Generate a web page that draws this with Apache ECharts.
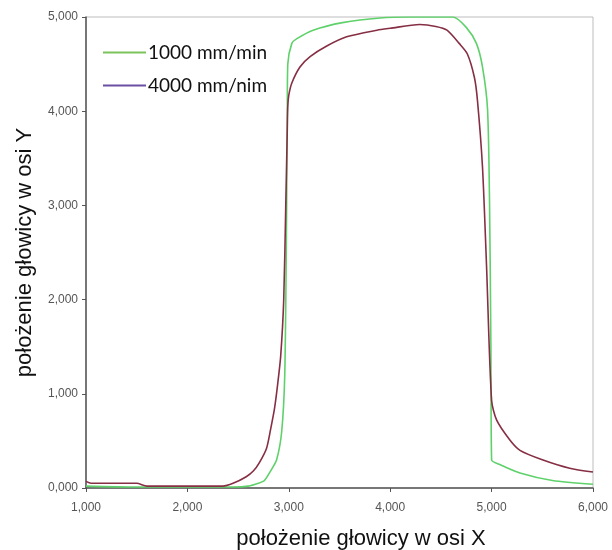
<!DOCTYPE html>
<html>
<head>
<meta charset="utf-8">
<script src="https://cdn.jsdelivr.net/npm/echarts@6/dist/echarts.min.js"></script>
<style>html,body{margin:0;padding:0;background:#fff;}#c{width:612px;height:550px;}</style>
</head>
<body>
<div id="c"></div>
<script>
const seriesNames = ['1000 mm/min', '4000 mm/nim'];
const greenX = [1.0,1.5,2.0,2.45,2.6,2.7,2.76,2.82,2.88,2.93,2.96,2.975,2.985,2.99,3.03,3.08,3.24,3.53,3.9,4.2,4.62,4.75,4.85,4.91,4.96,4.98,4.993,5.0,5.08,5.28,5.6,6.0];
const greenY = [0.02,0.01,0.01,0.01,0.02,0.05,0.08,0.18,0.3,0.6,1.2,2.5,4.0,4.5,4.72,4.77,4.86,4.94,4.99,5.0,5.0,4.89,4.72,4.47,4.02,3.0,1.5,0.3,0.25,0.16,0.08,0.04];
const redX = [1.0,1.05,1.5,1.6,2.0,2.35,2.45,2.58,2.65,2.71,2.78,2.82,2.86,2.89,2.92,2.95,2.97,2.985,2.99,3.0,3.03,3.11,3.21,3.37,3.57,3.87,4.0,4.29,4.45,4.56,4.68,4.76,4.83,4.86,4.91,4.95,5.0,5.05,5.18,5.28,5.5,5.77,6.0];
const redY = [0.07,0.05,0.05,0.02,0.02,0.02,0.05,0.12,0.18,0.27,0.42,0.62,0.85,1.1,1.4,2.0,3.0,3.8,4.05,4.17,4.3,4.47,4.58,4.69,4.79,4.86,4.88,4.92,4.9,4.86,4.72,4.61,4.36,4.12,3.41,2.36,0.93,0.72,0.51,0.4,0.3,0.21,0.17];
const xTicks = [1,2,3,4,5,6];
const yTicks = [0,1,2,3,4,5];
const xTitle = 'położenie głowicy w osi X';
const yTitle = 'położenie głowicy w osi Y';

const zip = (a, b) => a.map((v, i) => [v, b[i]]);
const fmt = v => v.toFixed(3).replace('.', ',');

const chart = echarts.init(document.getElementById('c'), null, {renderer: 'canvas'});
chart.setOption({
  animation: false,
  backgroundColor: '#ffffff',
  grid: {left: 86, right: 19, top: 17, bottom: 62, show: true, borderColor: '#bdbdbd', borderWidth: 1, outerBoundsMode: 'none', containLabel: false},
  legend: {
    orient: 'vertical', left: 98, top: 38, itemWidth: 43, itemHeight: 14, itemGap: 14,
    icon: 'path://M0,0 L44,0 L44,2 L0,2 Z',
    textStyle: {fontFamily: 'Lato, "Open Sans", sans-serif', fontSize: 19, color: '#111', padding: [0, 0, 0, -3]},
    data: [
      {name: seriesNames[0], itemStyle: {color: '#7cc35a'}},
      {name: seriesNames[1], itemStyle: {color: '#6a4fa3'}}
    ]
  },
  xAxis: {
    type: 'value', min: xTicks[0], max: xTicks[xTicks.length - 1], interval: 1,
    name: xTitle, nameLocation: 'middle', nameGap: 40,
    nameTextStyle: {fontFamily: '"Liberation Sans", Arial, sans-serif', fontSize: 22, color: '#111', padding: [0, 0, 0, 43]},
    axisLine: {show: true, lineStyle: {color: '#555', width: 1.5}},
    axisTick: {show: true, length: 4, lineStyle: {color: '#555'}},
    axisLabel: {formatter: fmt, fontFamily: '"Liberation Sans", Arial, sans-serif', fontSize: 12, color: '#555', margin: 14},
    splitLine: {show: false}
  },
  yAxis: {
    type: 'value', min: yTicks[0], max: yTicks[yTicks.length - 1], interval: 1,
    name: yTitle, nameLocation: 'middle', nameGap: 50, nameRotate: 90,
    nameTextStyle: {fontFamily: '"Liberation Sans", Arial, sans-serif', fontSize: 22, color: '#111'},
    axisLine: {show: true, lineStyle: {color: '#555', width: 1.5}},
    axisTick: {show: true, length: 4, lineStyle: {color: '#555'}},
    axisLabel: {formatter: fmt, fontFamily: '"Liberation Sans", Arial, sans-serif', fontSize: 12, color: '#555', margin: 8},
    splitLine: {show: false}
  },
  series: [
    {name: seriesNames[0], type: 'line', symbol: 'none', data: zip(greenX, greenY), smooth: 0.25,
     lineStyle: {color: '#5fd16a', width: 1.6}, itemStyle: {color: '#5fd16a'}, z: 2},
    {name: seriesNames[1], type: 'line', symbol: 'none', data: zip(redX, redY), smooth: 0.25,
     lineStyle: {color: '#862f44', width: 1.6}, itemStyle: {color: '#862f44'}, z: 3}
  ]
});
</script>
</body>
</html>
